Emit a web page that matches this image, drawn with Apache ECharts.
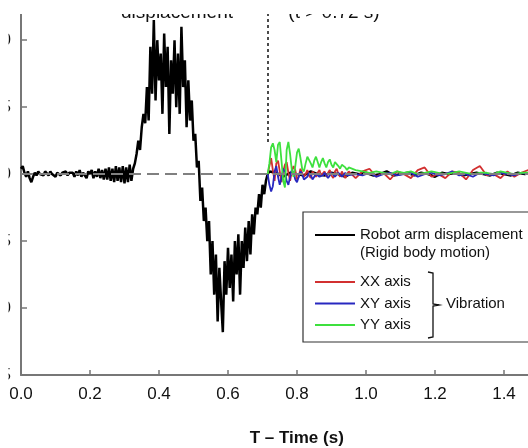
<!DOCTYPE html>
<html><head><meta charset="utf-8">
<script src="https://cdn.jsdelivr.net/npm/echarts@6/dist/echarts.min.js"></script>
<style>html,body{margin:0;padding:0;background:#fff}#c{width:528px;height:448px}</style>
</head><body><div id="c"></div>
<script>
// ---- data ----
const blackStart = 0, blackStep = 0.005;
const blackMain = [
 0.4,0.6,0.1,-0.2,0.2,-0.3,-0.6,-0.2,0.1,-0.1,
 0.2,0.0,0.1,-0.1,0.2,0.1,-0.1,0.2,0.0,0.1,-0.2,0.1,0.2,-0.1,0.1,0.0,0.2,-0.1,0.1,0.0,
 0.1,-0.2,0.2,-0.1,0.3,-0.2,0.1,0.2,-0.3,0.2,0.0,0.3,-0.3,0.2,-0.2,0.4,-0.3,0.3,-0.4,0.4,
 -0.4,0.5,-0.5,0.4,-0.6,0.6,-0.5,0.5,-0.6,0.6,-0.7,0.5,-0.6,0.7,-0.5,0.4,
 0.8,1.5,2.5,1.8,3.5,4.5,3.8,
 6.5,4.0,9.5,6.0,11.5,5.5,10.0,7.0,9.0,4.5,10.5,6.5,9.5,3.0,8.5,6.0,10.0,5.0,9.0,4.5,11.0,6.5,8.5,3.5,7.0,4.0,5.5,2.5,
 3.0,0.5,1.0,-2.0,-1.0,-3.5,-2.5,-5.0,-3.5,-7.5,-5.0,-9.0,-6.0,-11.0,-7.0,-9.5,-11.8,-6.5,-9.0,-5.5,
 -8.5,-6.0,-9.5,-5.0,-7.5,-4.5,-9.0,-5.0,-7.0,-4.0,-6.5,-3.5,-6.0,-3.0,-4.5,-2.5,-3.0,-1.5,-2.5,-0.8,
 -1.5,-0.5,0.0,0.2
];
const blackTailStart = 0.74, blackTailStep = 0.02;
const blackTail = [0.1,-0.2,0.1,0.0,-0.1,0.2,0.0,-0.1,0.1,0.0,-0.2,0.1,0.0,0.1,-0.1,0.0,0.2,-0.1,0.0,0.1,
 -0.1,0.1,0.0,-0.2,0.1,0.0,0.1,-0.1,0.0,0.1,0.0,-0.1,0.1,0.0,-0.1,0.1,0.0,0.1,-0.1];

const vibStart1 = 0.715, vibStep1 = 0.005, vibCount1 = 48;
const vibStart2 = 0.97, vibStep2 = 0.02;
const xxAxis = [
 0.0,0.6,1.2,0.3,-0.5,0.8,1.0,0.2,-0.6,0.2, 0.7,0.9,0.1,-0.5,0.2,0.6,0.3,-0.4,-0.2,0.4,
 0.3,-0.2,0.0,0.3,-0.1,-0.3,0.2,0.1,-0.2,0.1, 0.3,-0.1,0.0,0.2,-0.2,0.1,0.3,-0.1,-0.3,0.2,
 0.4,0.0,-0.2,0.2,0.1,-0.3,0.0,0.2,
 -0.3,0.2,0.4,-0.2,0.1,-0.4,0.2,0.0,-0.3,0.3,0.5,-0.2,0.0,-0.3,0.2,0.1,-0.4,0.3,0.6,-0.1,0.0,-0.3,0.2,-0.2,0.1,0.3,-0.1,0.2
];
const xyAxis = [
 0.0,-0.8,-1.3,-0.9,0.2,0.6,-0.2,-0.8,-0.3,0.4, 0.2,-0.5,-0.8,-0.2,0.3,0.1,-0.4,-0.6,-0.2,0.2,
 0.0,-0.4,-0.5,-0.2,0.1,-0.1,-0.4,-0.3,0.0,0.1, -0.2,-0.3,-0.1,0.1,-0.1,-0.3,-0.1,0.1,0.0,-0.2,
 -0.1,0.1,0.0,-0.2,-0.1,0.1,-0.1,-0.2,
 0.0,-0.1,0.1,-0.2,0.0,0.1,-0.1,0.0,0.1,-0.2,0.0,0.1,-0.1,0.0,0.2,-0.1,0.0,-0.2,0.1,0.0,-0.1,0.1,0.0,-0.1,0.1,0.0,-0.1,0.0
];
const yyAxis = [
 0.0,0.8,2.0,2.3,1.8,0.9,2.2,2.4,1.0,-0.5, -1.0,1.8,2.4,1.5,0.3,-0.2,0.6,1.6,1.9,1.2,
 0.4,0.2,0.8,1.3,1.4,0.8,0.5,1.0,1.3,0.9, 0.5,0.9,1.2,0.8,0.5,0.9,1.1,0.7,0.5,0.9,
 1.0,0.6,0.4,0.7,0.8,0.5,0.3,0.5,
 0.3,0.2,0.1,0.2,0.1,0.0,0.2,0.1,0.2,0.0,0.1,0.2,0.1,0.0,0.1,0.2,0.1,0.0,0.1,0.1,0.0,0.2,0.1,0.0,0.1,0.1,0.0,0.1
];
const xTicks = [0.0,0.2,0.4,0.6,0.8,1.0,1.2,1.4];
const yTicks = [-15,-10,-5,0,5,10];
const switchTime = 0.715;      // vertical dotted marker
const switchMarkerBottom = 2.4;

// ---- build ----
const r = v => Math.round(v*10000)/10000;
const blackData = blackMain.map((v,i)=>[r(blackStart+i*blackStep),v])
  .concat(blackTail.map((v,i)=>[r(blackTailStart+i*blackTailStep),v]));
const vibTime = i => i < vibCount1 ? r(vibStart1+i*vibStep1) : r(vibStart2+(i-vibCount1)*vibStep2);
const pairs = arr => arr.map((v,i)=>[vibTime(i),v]);

const FONT = 'Liberation Sans, Arial, sans-serif';
const chart = echarts.init(document.getElementById('c'), null, {renderer:'canvas'});
chart.setOption({
  animation:false,
  backgroundColor:'#fff',
  textStyle:{fontFamily:FONT},
  grid:{left:21,right:-10.5,top:0,bottom:73,containLabel:false,outerBoundsMode:'none'},
  xAxis:{type:'value',min:0,max:1.5,interval:0.2,
    axisLine:{onZero:false,lineStyle:{color:'#777',width:2}},
    axisTick:{inside:true,length:5,customValues:xTicks,lineStyle:{color:'#777',width:1.5}},
    axisLabel:{customValues:xTicks,formatter:v=>v.toFixed(1),fontSize:17,color:'#111',margin:11,fontFamily:FONT},
    splitLine:{show:false},
    name:'T – Time (s)',nameLocation:'middle',nameGap:55,
    nameTextStyle:{fontSize:17,fontWeight:'bold',color:'#111',padding:[0,0,0,34],fontFamily:FONT}
  },
  yAxis:{type:'value',min:-15,max:13,
    axisLine:{show:true,onZero:false,lineStyle:{color:'#777',width:2}},
    axisTick:{show:true,inside:true,length:6,customValues:yTicks,lineStyle:{color:'#777',width:1.5}},
    axisLabel:{customValues:yTicks,fontSize:17,color:'#111',margin:10,fontFamily:FONT},
    splitLine:{show:false}
  },
  legend:[
    {orient:'vertical',left:315,top:226,padding:0,itemWidth:40,itemHeight:2,icon:'rect',itemGap:3.5,z:10,
     data:['Robot arm displacement'],textStyle:{fontSize:15,lineHeight:18,color:'#111',fontFamily:FONT}},
    {orient:'vertical',left:315,top:273,padding:0,itemWidth:40,itemHeight:2,icon:'rect',itemGap:3.5,z:10,
     data:['XX axis','XY axis','YY axis'],textStyle:{fontSize:15,lineHeight:18,color:'#111',fontFamily:FONT}}
  ],
  series:[
    {name:'Robot arm displacement',type:'line',data:blackData,showSymbol:false,color:'#000',
     lineStyle:{width:2.5,color:'#000'},z:2,
     markLine:{silent:true,symbol:'none',label:{show:false},
       data:[
         [{coord:[0,0]},{coord:[1.5,0]}],
       ],
       lineStyle:{color:'#808080',type:[12,6],width:2}}},
    {name:'XX axis',type:'line',data:pairs(xxAxis),showSymbol:false,color:'#d23030',lineStyle:{width:1.8},z:3},
    {name:'XY axis',type:'line',data:pairs(xyAxis),showSymbol:false,color:'#2828c0',lineStyle:{width:1.8},z:3},
    {name:'YY axis',type:'line',data:pairs(yyAxis),showSymbol:false,color:'#3ee03e',lineStyle:{width:1.8},z:3,
     markLine:{silent:true,symbol:'none',label:{show:false},
       data:[[{coord:[switchTime,switchMarkerBottom]},{coord:[switchTime,13]}]],
       lineStyle:{color:'#111',type:[3,3],width:1.5}}}
  ],
  graphic:[
    {type:'rect',z:5,shape:{x:303,y:212,width:240,height:130},style:{fill:'#fff',stroke:'#333',lineWidth:1.2}},
    {type:'text',z:12,x:360,y:253,style:{text:'(Rigid body motion)',fontSize:15,fontFamily:FONT,fill:'#111',verticalAlign:'middle'}},
    {type:'polyline',z:12,shape:{points:[[428,272],[433,273],[433,304],[439,305],[433,306],[433,337],[428,338]]},
     style:{stroke:'#111',lineWidth:1.3,fill:null}},
    {type:'text',z:12,x:446,y:304,style:{text:'Vibration',fontSize:15,fontFamily:FONT,fill:'#111',verticalAlign:'middle'}},
    {type:'text',z:20,x:177,y:22,style:{text:'displacement',fontSize:19,fontFamily:FONT,fill:'#111',align:'center',verticalAlign:'bottom'}},
    {type:'text',z:20,x:334,y:22,style:{text:'(t > 0.72 s)',fontSize:19,fontFamily:FONT,fill:'#111',align:'center',verticalAlign:'bottom'}},
    {type:'rect',z:100,shape:{x:0,y:0,width:528,height:14},style:{fill:'#fff'}},
    {type:'rect',z:100,shape:{x:0,y:0,width:8.5,height:448},style:{fill:'#fff'}}
  ]
});
</script></body></html>
